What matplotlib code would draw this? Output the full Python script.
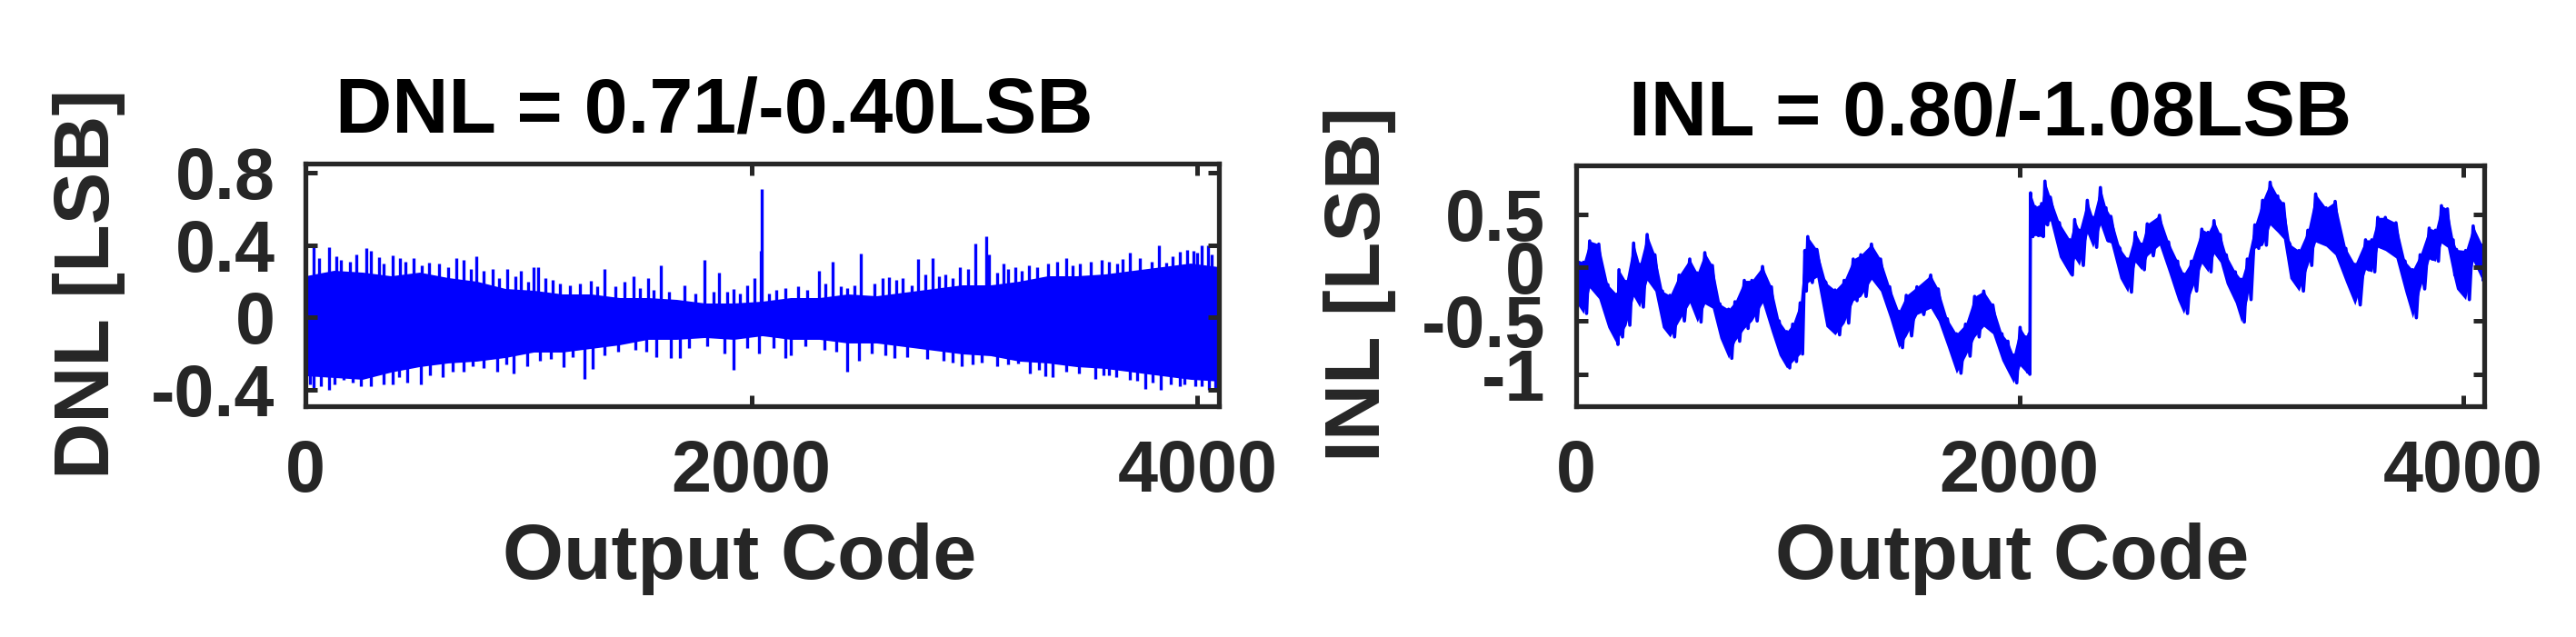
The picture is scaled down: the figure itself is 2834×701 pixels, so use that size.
import numpy as np
import matplotlib
matplotlib.use('Agg')
import matplotlib.pyplot as plt

plt.rcParams['font.family'] = ['Liberation Sans', 'DejaVu Sans']
plt.rcParams['font.weight'] = 'bold'
plt.rcParams['axes.unicode_minus'] = False

# ============================================================
#   DNL / INL of a 12-bit converter
# ============================================================

# --- DNL: solid core of the noise band, every 128 codes ---
dnl_code = [0, 128, 256, 384, 512, 640, 768, 896, 1024, 1152, 1280, 1408,
            1536, 1664, 1792, 1920, 2048, 2176, 2304, 2432, 2560, 2688,
            2816, 2944, 3072, 3200, 3328, 3456, 3584, 3712, 3840, 3968, 4096]
dnl_top = [0.23, 0.26, 0.25, 0.23, 0.25, 0.22, 0.20, 0.16, 0.15, 0.13, 0.13,
           0.11, 0.11, 0.10, 0.08, 0.08, 0.09, 0.11, 0.11, 0.13, 0.12, 0.14,
           0.16, 0.18, 0.18, 0.20, 0.23, 0.23, 0.24, 0.26, 0.28, 0.30, 0.28]
dnl_bot = [-0.32, -0.33, -0.34, -0.30, -0.27, -0.25, -0.24, -0.22, -0.19,
           -0.19, -0.17, -0.15, -0.12, -0.12, -0.11, -0.12, -0.10, -0.12,
           -0.12, -0.14, -0.14, -0.16, -0.18, -0.20, -0.21, -0.24, -0.25,
           -0.27, -0.28, -0.30, -0.32, -0.34, -0.35]

# --- DNL: single codes sticking out of the band (large ones) ---
spike_up_code = [37, 105, 159, 274, 295, 329, 390, 424, 485, 553, 675, 709,
                 768, 838, 903, 967, 1021, 1042, 1076, 1185, 1280, 1341, 1470,
                 1535, 1595, 1789, 1855, 1919, 1980, 2014, 2041, 2045, 2111,
                 2211, 2302, 2364, 2428, 2492, 2618, 2677, 2720, 2747, 2813,
                 2869, 2935, 3002, 3053, 3066, 3130, 3182, 3243, 3413, 3474,
                 3569, 3603, 3664, 3698, 3793, 3827, 3861, 3922, 3953, 3983,
                 4017, 4047, 4078]
spike_up_val = [0.39, 0.39, 0.32, 0.385, 0.37, 0.335, 0.345, 0.33, 0.33, 0.305,
                0.33, 0.32, 0.34, 0.27, 0.27, 0.26, 0.28, 0.28, 0.22, 0.18,
                0.205, 0.27, 0.23, 0.22, 0.29, 0.32, 0.25, 0.155, 0.18, 0.22,
                0.37, 0.71, 0.15, 0.17, 0.26, 0.31, 0.16, 0.355, 0.225, 0.22,
                0.18, 0.325, 0.33, 0.24, 0.28, 0.41, 0.45, 0.35, 0.30, 0.28,
                0.29, 0.33, 0.30, 0.32, 0.31, 0.325, 0.36, 0.31, 0.40, 0.305,
                0.365, 0.375, 0.37, 0.40, 0.40, 0.28]
spike_dn_code = [37, 71, 105, 173, 295, 349, 390, 455, 519, 614, 709, 750,
                 859, 933, 994, 1157, 1253, 1287, 1572, 1640, 1681, 1878, 1921,
                 2034, 2150, 2177, 2326, 2428, 2482, 2639, 2788, 2942, 2992,
                 3033, 3196, 3250, 3318, 3352, 3413, 3542, 3603, 3637, 3698,
                 3766, 3834, 3943, 3990, 4051]
spike_dn_val = [-0.40, -0.38, -0.40, -0.345, -0.38, -0.37, -0.37, -0.36, -0.37,
                -0.33, -0.30, -0.27, -0.30, -0.31, -0.27, -0.275, -0.34, -0.285,
                -0.22, -0.225, -0.225, -0.20, -0.29, -0.20, -0.225, -0.21,
                -0.18, -0.30, -0.24, -0.225, -0.23, -0.27, -0.26, -0.25, -0.255,
                -0.31, -0.325, -0.33, -0.30, -0.34, -0.32, -0.33, -0.345,
                -0.395, -0.40, -0.37, -0.38, -0.40]

# --- DNL: smaller spikes that make the ragged edge of the band ---
fuzz_up_code = [60, 140, 200, 230, 350, 450, 520, 600, 640, 740, 800, 870, 940,
                1000, 1110, 1140, 1230, 1310, 1390, 1430, 1500, 1560, 1630,
                1700, 1750, 1830, 1890, 1950, 2080, 2150, 2250, 2330, 2400,
                2460, 2550, 2590, 2650, 2780, 2840, 2900, 2970, 3100, 3150,
                3210, 3280, 3330, 3370, 3440, 3520, 3640, 3740, 3890, 4000, 4065]
fuzz_up_val = [0.33, 0.34, 0.31, 0.35, 0.30, 0.31, 0.29, 0.30, 0.28, 0.27, 0.26,
               0.22, 0.23, 0.20, 0.21, 0.19, 0.19, 0.17, 0.17, 0.20, 0.16, 0.15,
               0.14, 0.18, 0.13, 0.14, 0.14, 0.13, 0.13, 0.16, 0.15, 0.19, 0.17,
               0.18, 0.19, 0.22, 0.21, 0.24, 0.23, 0.22, 0.27, 0.25, 0.27, 0.26,
               0.28, 0.30, 0.31, 0.29, 0.31, 0.30, 0.33, 0.34, 0.36, 0.35]
fuzz_dn_code = [20, 130, 210, 250, 420, 560, 660, 800, 900, 1050, 1100, 1200,
                1340, 1400, 1480, 1530, 1720, 1800, 1980, 2100, 2240, 2380, 2540,
                2600, 2700, 2860, 2900, 3100, 3150, 3290, 3470, 3580, 3730,
                3800, 3880, 3920, 4020, 4080]
fuzz_dn_val = [-0.37, -0.37, -0.36, -0.38, -0.33, -0.32, -0.30, -0.28, -0.26,
               -0.24, -0.23, -0.22, -0.21, -0.19, -0.18, -0.19, -0.17, -0.16,
               -0.17, -0.17, -0.16, -0.19, -0.20, -0.21, -0.22, -0.24, -0.25,
               -0.27, -0.26, -0.29, -0.31, -0.32, -0.35, -0.36, -0.37, -0.38,
               -0.38, -0.39]

# --- INL: upper / lower edge of the trace ---
inl_code = [0, 35, 63, 104, 145, 186, 195, 227, 261, 288, 322, 357, 391, 425,
            466, 514, 548, 582, 616, 650, 689, 718, 760, 794, 842, 882, 917,
            951, 978, 1012, 1033, 1046, 1087, 1128, 1169, 1210, 1251, 1285,
            1333, 1374, 1415, 1456, 1490, 1538, 1600, 1634, 1675, 1716, 1757,
            1798, 1839, 1880, 1921, 1948, 1973, 2003, 2030, 2044,
            2050, 2071, 2100, 2115, 2139, 2180, 2228, 2249, 2270, 2306, 2331,
            2365, 2390, 2412, 2453, 2488, 2522, 2550, 2576, 2631, 2672, 2713,
            2740, 2775, 2822, 2850, 2877, 2905, 2932, 2973, 3000, 3027, 3061,
            3096, 3130, 3164, 3190, 3219, 3260, 3300, 3335, 3382, 3423, 3471,
            3512, 3560, 3588, 3615, 3649, 3697, 3738, 3772, 3806, 3847, 3875,
            3902, 3929, 3955, 3970, 4011, 4045, 4086, 4095]
inl_hi = [0.08, 0.05, 0.25, 0.22, -0.16, -0.25, -0.02, -0.13, 0.23, 0.03, 0.31,
          0.12, -0.22, -0.26, -0.07, 0.08, -0.05, 0.14, 0.02, -0.34, -0.39,
          -0.32, -0.12, -0.12, 0.01, -0.18, -0.50, -0.60, -0.53, -0.33, 0.16,
          0.29, 0.17, -0.14, -0.21, -0.12, 0.08, 0.12, 0.22, 0.08, -0.18, -0.41,
          -0.26, -0.18, -0.07, -0.20, -0.48, -0.62, -0.53, -0.27, -0.22, -0.35,
          -0.62, -0.69, -0.82, -0.56, -0.65, -0.62,
          0.70, 0.57, 0.60, 0.81, 0.66, 0.42, 0.26, 0.45, 0.35, 0.63, 0.47,
          0.75, 0.56, 0.48, 0.18, 0.08, 0.33, 0.22, 0.41, 0.49, 0.24, 0.06,
          -0.06, 0.06, 0.36, 0.33, 0.44, 0.31, 0.12, -0.04, -0.11, 0.08, 0.40,
          0.63, 0.80, 0.67, 0.60, 0.22, 0.16, 0.35, 0.69, 0.56, 0.62, 0.18,
          0.03, 0.26, 0.26, 0.47, 0.47, 0.42, 0.06, -0.02, 0.12, 0.37, 0.35,
          0.58, 0.55, 0.26, 0.17, 0.16, 0.39, 0.21, 0.21]
inl_lo = [-0.32, -0.43, -0.19, -0.29, -0.56, -0.72, -0.65, -0.54, -0.27, -0.37,
          -0.12, -0.22, -0.56, -0.65, -0.50, -0.33, -0.51, -0.34, -0.38, -0.66,
          -0.85, -0.69, -0.57, -0.50, -0.33, -0.60, -0.82, -0.94, -0.88, -0.81,
          -0.22, -0.14, -0.09, -0.55, -0.63, -0.52, -0.31, -0.27, -0.11, -0.22,
          -0.47, -0.75, -0.64, -0.44, -0.38, -0.50, -0.74, -0.99, -0.83, -0.65,
          -0.55, -0.62, -0.87, -0.98, -1.08, -0.92, -0.98, -1.00,
          0.29, 0.30, 0.29, 0.40, 0.44, 0.10, -0.07, 0.09, 0.02, 0.32, 0.19,
          0.40, 0.25, 0.23, -0.10, -0.23, 0.05, -0.02, 0.11, 0.21, -0.04, -0.30,
          -0.43, -0.22, 0.04, -0.04, 0.13, 0.05, -0.15, -0.33, -0.51, -0.30,
          0.18, 0.21, 0.40, 0.33, 0.27, -0.10, -0.22, 0.02, 0.24, 0.20, 0.12,
          -0.14, -0.35, -0.02, -0.04, 0.19, 0.16, 0.09, -0.23, -0.47, -0.20,
          0.08, 0.06, 0.23, 0.19, -0.07, -0.20, -0.30, 0.06, -0.12, -0.10]

dnl_title = 'DNL = 0.71/-0.40LSB'
inl_title = 'INL = 0.80/-1.08LSB'
x_label = 'Output Code'
x_ticks = [0, 2000, 4000]
x_tick_labels = ['0', '2000', '4000']
dnl_yticks = [-0.4, 0, 0.4, 0.8]
dnl_ytick_labels = ['-0.4', '0', '0.4', '0.8']
inl_yticks = [-1, -0.5, 0, 0.5]
inl_ytick_labels = ['-1', '-0.5', '0', '0.5']

BLUE = '#0000ff'
DARK = '#262626'

# --- INL trace: zig-zag between upper and lower edge ---
inl_x = []
inl_y = []
for i in range(len(inl_code)):
    inl_x.append(inl_code[i])
    inl_y.append(inl_hi[i])
    if i + 1 < len(inl_code):
        inl_x.append(0.5 * (inl_code[i] + inl_code[i + 1]))
    else:
        inl_x.append(inl_code[i])
    inl_y.append(inl_lo[i])

fig = plt.figure(figsize=(28.34, 7.01), dpi=100)
ax1 = fig.add_axes([0.11856, 0.36234, 0.35462, 0.38088])
ax2 = fig.add_axes([0.61168, 0.36277, 0.35279, 0.37803])

# --- DNL panel ---
ax1.fill_between(dnl_code, dnl_bot, dnl_top, color=BLUE, lw=0)
ax1.vlines(fuzz_up_code, 0, fuzz_up_val, color=BLUE, lw=2.4)
ax1.vlines(fuzz_dn_code, fuzz_dn_val, 0, color=BLUE, lw=2.4)
ax1.vlines(spike_up_code, 0, spike_up_val, color=BLUE, lw=2.4)
ax1.vlines(spike_dn_code, spike_dn_val, 0, color=BLUE, lw=2.4)

# --- INL panel: dense trace = filled band plus its ragged zig-zag ---
ax2.fill_between(inl_code, inl_lo, inl_hi, color=BLUE, lw=0)
ax2.plot(inl_x, inl_y, color=BLUE, lw=2.6)


def style_axes(ax, ylim, yticks, ytick_labels):
    ax.set_xlim(0, 4096)
    ax.set_ylim(*ylim)
    ax.set_xticks(x_ticks)
    ax.set_xticklabels(x_tick_labels)
    ax.set_yticks(yticks)
    ax.set_yticklabels(ytick_labels)
    ax.set_axisbelow(False)
    ax.tick_params(direction='in', length=9, width=3.6, top=True, right=True,
                   labelsize=57, colors=DARK)
    ax.tick_params(axis='x', pad=26)
    ax.tick_params(axis='y', pad=24)
    for s in ax.spines.values():
        s.set_linewidth(3.8)
        s.set_color(DARK)


style_axes(ax1, (-0.488, 0.848), dnl_yticks, dnl_ytick_labels)
style_axes(ax2, (-1.296, 0.96), inl_yticks, inl_ytick_labels)

# titles (MATLAB puts them slightly left of centre)
ax1.text(0.448, 1.131, dnl_title, transform=ax1.transAxes, ha='center',
         va='baseline', fontsize=62, fontweight='bold', color='black')
ax2.text(0.456, 1.127, inl_title, transform=ax2.transAxes, ha='center',
         va='baseline', fontsize=62, fontweight='bold', color='black')

for ax, ylab, lx, ly, xx, xy in [(ax1, 'DNL [LSB]', -0.215, 0.504, 0.475, -0.712),
                                 (ax2, 'INL [LSB]', -0.2155, 0.506, 0.480, -0.719)]:
    ax.set_xlabel(x_label, fontsize=62, fontweight='bold', color=DARK,
                  va='baseline', ha='center')
    ax.xaxis.set_label_coords(xx, xy)
    ax.set_ylabel(ylab, fontsize=62, fontweight='bold', color=DARK,
                  rotation=90, rotation_mode='anchor', ha='center', va='baseline')
    ax.yaxis.set_label_coords(lx, ly)

fig.savefig('out.png', dpi=100)
